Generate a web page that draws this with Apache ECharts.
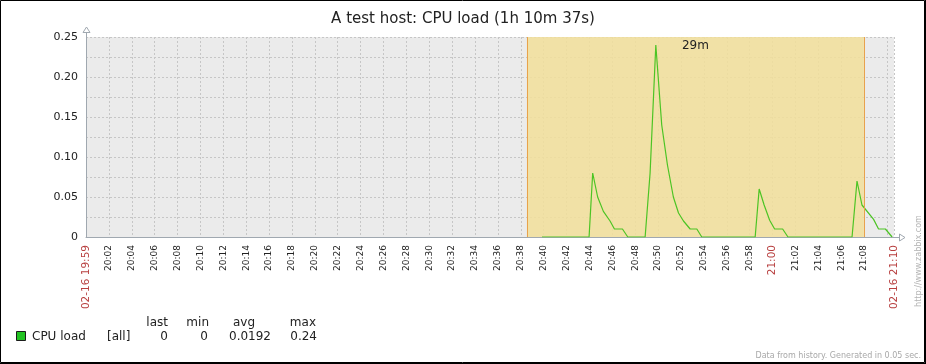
<!DOCTYPE html>
<html><head><meta charset="utf-8">
<script src="https://cdn.jsdelivr.net/npm/echarts@6/dist/echarts.min.js"></script>
<style>html,body{margin:0;padding:0;background:#fff}#c{width:926px;height:364px}</style>
</head><body><div id="c"></div>
<script>
// ---- data ----
const chartTitle = 'A test host: CPU load (1h 10m 37s)';
const axisOrigin = '20:00:00';
const periodEnd = '21:10:37';
const startLabel = '02-16 19:59';
const endLabel = '02-16 21:10';
const highlightHour = '21:00';
const times = ['20:39:51','20:43:58','20:44:17','20:44:43','20:45:13','20:45:48','20:46:11','20:46:53','20:47:21',
  '20:48:52','20:49:18','20:49:27','20:49:48','20:50:19','20:50:49','20:51:20','20:51:47','20:52:13','20:52:48','20:53:23','20:53:49',
  '20:58:29','20:58:50','20:59:16','20:59:45','21:00:11','21:00:53','21:01:21',
  '21:06:57','21:07:23','21:07:49','21:08:06','21:08:50','21:09:16','21:09:52','21:10:27'];
const values = [0,0,0.08,0.05,0.032,0.02,0.01,0.01,0,
  0,0.08,0.08,0.24,0.14,0.09,0.05,0.03,0.02,0.01,0.01,0,
  0,0.06,0.04,0.021,0.01,0.01,0,
  0,0.07,0.04,0.035,0.022,0.01,0.01,0];
const spanStart = '20:38:32';
const spanEnd = '21:07:59';
const spanLabel = '29m';
const yMax = 0.25;
const yStep = 0.05;
const xStepMin = 2;
const legendName = 'CPU load';
const legendFunc = '[all]';
const statHeaders = ['last', 'min', 'avg', 'max'];
const statValues = ['0', '0', '0.0192', '0.24'];
const footerText = 'Data from history. Generated in 0.05 sec.';
const watermark = 'http://www.zabbix.com';

// ---- helpers ----
function sec(t){ const p = t.split(':').map(Number); return p[0]*3600 + p[1]*60 + (p[2] || 0); }
const originSec = sec(axisOrigin);
function toMin(t){ return (sec(t) - originSec) / 60; }
const xMax = toMin(periodEnd);
function pad(n){ return (n < 10 ? '0' : '') + n; }
function fmtX(v){
  if (Math.abs(v) < 1e-6) return '{r|' + startLabel + '}';
  if (Math.abs(v - xMax) < 1e-6) return '{r|' + endLabel + '}';
  if (xMax - v < 1) return '';
  const s = originSec + Math.round(v * 60);
  const lab = pad(Math.floor(s / 3600)) + ':' + pad(Math.floor((s % 3600) / 60));
  return lab === highlightHour ? '{r|' + lab + '}' : lab;
}

const FONT = 'DejaVu Sans';
const GL = 86, GT = 37, GW = 808, GH = 200;
const axisColor = '#A0A8B0';
const gridLine = { color: '#C6C6C6', type: [2, 2], width: 1 };

const chart = echarts.init(document.getElementById('c'), null, { renderer: 'canvas' });

const statX = [[168, 168, 'right'], [209, 208, 'right'], [244, 271, 'center', 'right'], [316, 317, 'right']];
const legendGraphics = [
  { type: 'rect', shape: { x: 16.5, y: 331.5, width: 9, height: 9 }, style: { fill: '#22C322', stroke: '#1b1b1b', lineWidth: 1 } },
  { type: 'text', x: 32, y: 336.5, style: { text: legendName, font: '12px "' + FONT + '"', fill: '#222', textVerticalAlign: 'middle' } },
  { type: 'text', x: 107, y: 336.5, style: { text: legendFunc, font: '12px "' + FONT + '"', fill: '#222', textVerticalAlign: 'middle' } }
];
statHeaders.forEach((h, i) => {
  const sx = statX[i];
  legendGraphics.push({ type: 'text', x: sx[0], y: 322.5, style: { text: h, font: '12px "' + FONT + '"', fill: '#222', textAlign: sx[2], textVerticalAlign: 'middle' } });
  legendGraphics.push({ type: 'text', x: sx[1], y: 336.5, style: { text: statValues[i], font: '12px "' + FONT + '"', fill: '#222', textAlign: sx[3] || sx[2], textVerticalAlign: 'middle' } });
});

const option = {
  animation: false,
  backgroundColor: '#fff',
  textStyle: { fontFamily: FONT },
  grid: { left: GL, top: GT, width: GW, height: GH, show: true, backgroundColor: '#EBEBEB', borderWidth: 0 },
  xAxis: {
    type: 'value', min: 0, max: xMax, interval: xStepMin,
    axisLine: { show: true, onZero: false, lineStyle: { color: axisColor, width: 1 } },
    axisTick: { show: false },
    splitLine: { show: true, lineStyle: gridLine },
    axisLabel: {
      rotate: 90, margin: 8, fontSize: 9, color: '#222', fontFamily: FONT,
      showMinLabel: true, showMaxLabel: true, hideOverlap: false,
      formatter: fmtX,
      rich: { r: { color: '#B84040', fontSize: 10.5, fontFamily: FONT } }
    }
  },
  yAxis: {
    type: 'value', min: 0, max: yMax, interval: yStep,
    axisLine: { show: true, lineStyle: { color: axisColor, width: 1 } },
    axisTick: { show: false },
    minorTick: { show: false, splitNumber: 2 },
    minorSplitLine: { show: true, lineStyle: gridLine },
    splitLine: { show: true, lineStyle: gridLine },
    axisLabel: { margin: 8, fontSize: 11, color: '#222', fontFamily: FONT,
      formatter: v => v === 0 ? '0' : v.toFixed(2) }
  },
  series: [{
    type: 'line', name: legendName,
    data: times.map((t, i) => [toMin(t), values[i]]),
    showSymbol: false, symbol: 'none',
    lineStyle: { color: '#4CC424', width: 1.2 },
    itemStyle: { color: '#4CC424' },
    markArea: {
      silent: true,
      itemStyle: { color: 'rgba(242,223,154,0.85)' },
      label: { show: true, position: 'insideTop', distance: 3, fontSize: 12, color: '#222', fontFamily: FONT },
      data: [[{ xAxis: toMin(spanStart), name: spanLabel }, { xAxis: toMin(spanEnd) }]]
    },
    markLine: {
      silent: true, symbol: ['none', 'none'],
      label: { show: false },
      lineStyle: { color: '#E8A24C', type: 'solid', width: 1 },
      data: [{ xAxis: toMin(spanStart) }, { xAxis: toMin(spanEnd) }]
    }
  }],
  graphic: [
    { type: 'rect', shape: { x: 0.5, y: 0.5, width: 924, height: 362 }, style: { fill: 'none', stroke: '#000', lineWidth: 1 }, z: 100 },
    { type: 'line', shape: { x1: 925.5, y1: 0, x2: 925.5, y2: 364 }, style: { stroke: '#000', lineWidth: 1 }, z: 100 },
    { type: 'line', shape: { x1: 0, y1: 363.5, x2: 926, y2: 363.5 }, style: { stroke: '#000', lineWidth: 1 }, z: 100 },
    { type: 'text', x: 463, y: 19.5, style: { text: chartTitle, font: '15px "' + FONT + '"', fill: '#222', textAlign: 'center', textVerticalAlign: 'middle' } },
    { type: 'line', shape: { x1: 86.5, y1: 37, x2: 86.5, y2: 32.5 }, style: { stroke: axisColor, lineWidth: 1 } },
    { type: 'polygon', shape: { points: [[83, 32.5], [90, 32.5], [86.5, 27]] }, style: { fill: '#fff', stroke: axisColor, lineWidth: 1 } },
    { type: 'line', shape: { x1: 894, y1: 237.5, x2: 899.5, y2: 237.5 }, style: { stroke: axisColor, lineWidth: 1 } },
    { type: 'polygon', shape: { points: [[899.5, 234], [899.5, 241], [905, 237.5]] }, style: { fill: '#fff', stroke: axisColor, lineWidth: 1 } },
    ...legendGraphics,
    { type: 'text', x: 921, y: 355.5, style: { text: footerText, font: '8px "' + FONT + '"', fill: '#A8A8A8', textAlign: 'right', textVerticalAlign: 'middle' } },
    { type: 'text', x: 919, y: 261, rotation: Math.PI / 2, style: { text: watermark, font: '8px "' + FONT + '"', fill: '#B4B4B4', textAlign: 'center', textVerticalAlign: 'middle' } }
  ]
};
chart.setOption(option);
</script>
</body></html>
